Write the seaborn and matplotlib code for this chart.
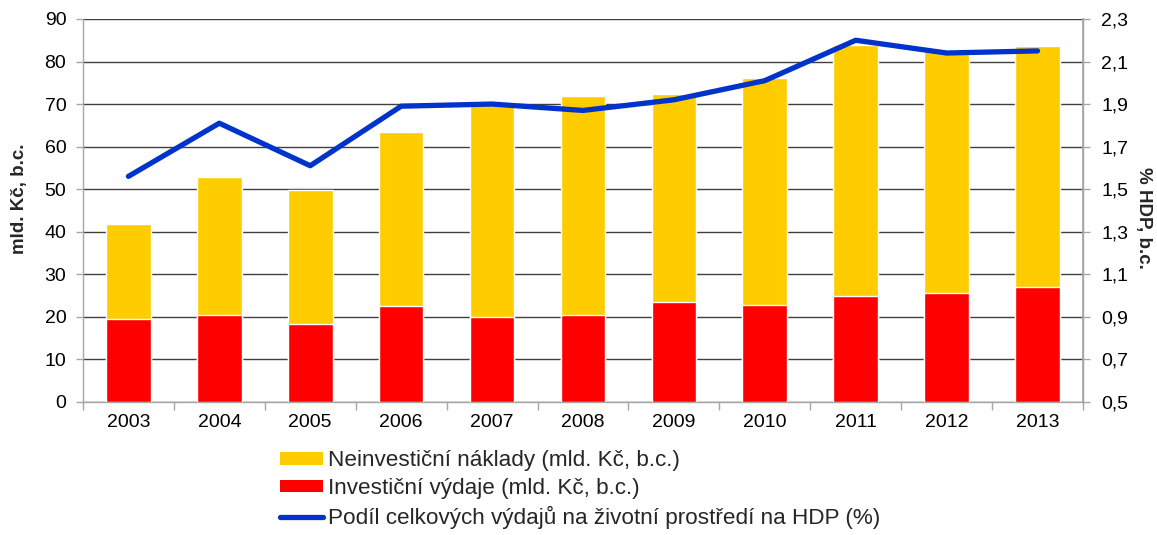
import matplotlib
matplotlib.use("Agg")
import matplotlib.pyplot as plt
from matplotlib.lines import Line2D
from matplotlib.patches import Patch
from matplotlib.ticker import FixedLocator, FuncFormatter
import numpy as np
import pandas as pd
import seaborn as sns

years = ["2003", "2004", "2005", "2006", "2007", "2008",
         "2009", "2010", "2011", "2012", "2013"]
investicni = [19.4, 20.3, 18.3, 22.6, 20.0, 20.3, 23.5, 22.8, 24.9, 25.6, 27.0]
neinvesticni = [22.5, 32.6, 31.6, 40.8, 49.8, 51.5, 48.8, 53.3, 59.0, 56.9, 56.7]
podil_hdp = [1.56, 1.81, 1.61, 1.89, 1.90, 1.87, 1.92, 2.01, 2.20, 2.14, 2.15]

label_nein = "Neinvestiční náklady (mld. Kč, b.c.)"
label_inv = "Investiční výdaje (mld. Kč, b.c.)"
label_line = "Podíl celkových výdajů na životní prostředí na HDP (%)"

df = pd.DataFrame({"rok": years, "inv": investicni, "nein": neinvesticni,
                   "hdp": podil_hdp})
df["celkem"] = df["inv"] + df["nein"]

sns.set_theme(style="white")
plt.rcParams["font.family"] = ["Liberation Sans", "DejaVu Sans"]

YELLOW = "#FFCC00"
RED = "#FF0000"
BLUE = "#0033CC"
AXIS_GREY = "#a6a6a6"

fig = plt.figure(figsize=(11.57, 5.35), dpi=100)
ax = fig.add_axes([0.0717, 0.249, 0.8643, 0.7155])

# stacked bars: total (yellow) behind, investment part (red) in front
sns.barplot(data=df, x="rok", y="celkem", color=YELLOW, width=0.49,
            saturation=1, ax=ax, zorder=2)
sns.barplot(data=df, x="rok", y="inv", color=RED, width=0.49,
            saturation=1, ax=ax, zorder=3)

ax.set_ylim(0, 90)
ax.set_xlim(-0.5, len(years) - 0.5)
ax.set_yticks(np.arange(0, 91, 10))
ax.yaxis.grid(True, color="#404040", linewidth=1.0, zorder=0)
ax.set_axisbelow(True)
ax.set_xlabel("")
ax.set_ylabel("")
ax.text(-0.063, 0.53, "mld. Kč, b.c.", transform=ax.transAxes, rotation=90,
        ha="center", va="center", fontsize=13.5, fontweight="bold")

ax.spines["top"].set_visible(False)
for side in ["left", "right", "bottom"]:
    ax.spines[side].set_color(AXIS_GREY)
    ax.spines[side].set_linewidth(1.0)

ax.tick_params(axis="x", which="major", length=0, labelsize=14, pad=9,
               colors="black")
ax.xaxis.set_minor_locator(FixedLocator(np.arange(-0.5, len(years), 1.0)))
ax.tick_params(axis="x", which="minor", length=6, width=1, color=AXIS_GREY,
               bottom=True)
ax.tick_params(axis="y", length=5, width=1, color=AXIS_GREY, labelsize=14,
               left=True, pad=7, labelcolor="black")

ax2 = ax.twinx()
sns.lineplot(x=np.arange(len(years)), y=df["hdp"], color=BLUE, linewidth=3.8,
             ax=ax2, zorder=5, solid_capstyle="round")
ax2.set_ylim(0.5, 2.3)
ax2.set_yticks(np.arange(0.5, 2.31, 0.2))
ax2.yaxis.set_major_formatter(FuncFormatter(lambda v, p: f"{v:.1f}".replace(".", ",")))
ax2.set_ylabel("")
ax2.text(1.061, 0.48, "% HDP, b.c.", transform=ax.transAxes, rotation=270,
         ha="center", va="center", fontsize=13.5, fontweight="bold")
ax2.tick_params(axis="y", length=5, width=1, color=AXIS_GREY, labelsize=14,
                right=True, pad=8, labelcolor="black")
ax2.grid(False)
for side in ["top", "left", "bottom"]:
    ax2.spines[side].set_visible(False)
ax2.spines["right"].set_color(AXIS_GREY)

handles = [
    Patch(facecolor=YELLOW, edgecolor="none", label=label_nein),
    Patch(facecolor=RED, edgecolor="none", label=label_inv),
    Line2D([0], [0], color=BLUE, linewidth=3.8, solid_capstyle="round",
           label=label_line),
]
fig.legend(handles=handles, loc="upper left", bbox_to_anchor=(0.242, 0.158),
           frameon=False, fontsize=16.2, handlelength=1.92, handleheight=0.48,
           handletextpad=0.2, labelspacing=0.3, borderaxespad=0, borderpad=0)

fig.savefig("out.png", dpi=100)
